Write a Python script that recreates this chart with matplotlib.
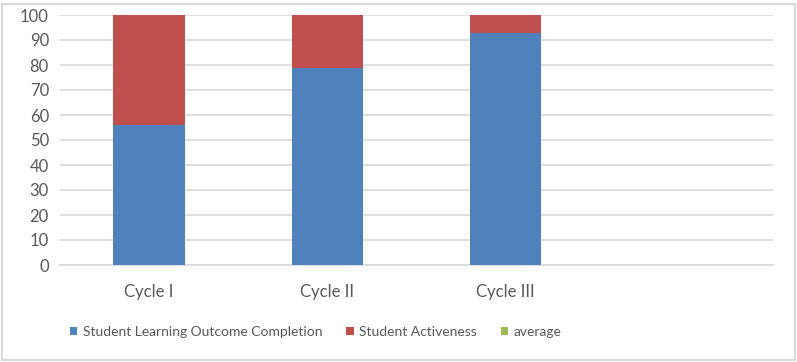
import matplotlib.pyplot as plt
import numpy as np
from matplotlib.patches import Rectangle

# Chart data
categories = ["Cycle I", "Cycle II", "Cycle III", ""]
outcome = [56, 79, 93, 0]
activeness = [44, 21, 7, 0]
average = [0, 0, 0, 0]
y_ticks = list(range(0, 101, 10))

plt.rcParams['font.family'] = ['Lato', 'DejaVu Sans']

fig = plt.figure(figsize=(7.97, 3.62), dpi=100)
ax = fig.add_axes([60 / 797, 1 - 265 / 362, 713 / 797, 250 / 362])

x = np.arange(len(categories))
ax.bar(x, outcome, width=0.4, color="#4F81BD", label="Student Learning Outcome Completion", zorder=3)
ax.bar(x, activeness, width=0.4, bottom=outcome, color="#C0504D", label="Student Activeness", zorder=3)
ax.bar(x, average, width=0.4, bottom=np.add(outcome, activeness), color="#9BBB59", label="average", zorder=3)

ax.set_xlim(-0.5, len(categories) - 0.5)
ax.set_ylim(0, 100)
ax.set_yticks(y_ticks)
ax.set_xticks(x)
ax.set_xticklabels(categories)
ax.grid(axis="y", color="#D9D9D9", linewidth=1.2, zorder=0)
for s in ["top", "right", "left"]:
    ax.spines[s].set_visible(False)
ax.spines["bottom"].set_color("#D9D9D9")
ax.spines["bottom"].set_linewidth(1.2)
ax.tick_params(axis="both", length=0, colors="#595959", labelsize=12)
ax.tick_params(axis="y", pad=8)
ax.tick_params(axis="x", pad=14)

leg = fig.legend(loc="center", bbox_to_anchor=(0.396, 1 - 332 / 362), ncol=3,
                 frameon=False, fontsize=10, handlelength=0.55, handleheight=0.55,
                 handletextpad=0.4, columnspacing=1.7)
for t in leg.get_texts():
    t.set_color("#595959")

# chart area border
fig.patches.append(Rectangle((2 / 797, 2 / 362), 793 / 797, 356 / 362, transform=fig.transFigure,
                             fill=False, edgecolor="#D9D9D9", linewidth=1.5))

fig.savefig("out.png", dpi=100)
